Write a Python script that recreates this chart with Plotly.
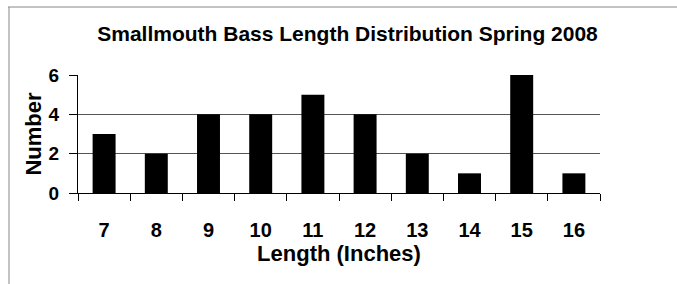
import plotly.graph_objects as go

lengths = ["7", "8", "9", "10", "11", "12", "13", "14", "15", "16"]
counts = [3, 2, 4, 4, 5, 4, 2, 1, 6, 1]
y_ticks = [0, 2, 4, 6]

W, H = 677, 284
ml, mr, mt, mb = 78, 77, 75, 91
pw, ph = W - ml - mr, H - mt - mb

def px_x(x):
    return (x - ml) / pw

def px_y(y):
    return (H - mb - y) / ph

font_family = "Arial, Liberation Sans, sans-serif"

fig = go.Figure(go.Bar(x=lengths, y=counts, marker=dict(color="black", line=dict(width=0))))

fig.update_layout(
    width=W, height=H,
    margin=dict(l=ml, r=mr, t=mt, b=mb),
    paper_bgcolor="white", plot_bgcolor="white",
    bargap=0.56,
    showlegend=False,
    font=dict(family=font_family, color="black"),
    title=dict(text="Smallmouth Bass Length Distribution Spring 2008",
               x=(94 + 601) / 2 / W, xanchor="center", y=1 - 34 / H, yanchor="middle",
               font=dict(size=21, weight="bold", family=font_family)),
    xaxis=dict(type="category", range=[-0.5, 9.5], showline=True, linecolor="black", linewidth=1,
               ticks="outside", ticklen=7, tickcolor="black", tickson="boundaries",
               tickfont=dict(size=20, weight="bold"), ticklabelstandoff=19,
               title=dict(text="Length (Inches)", font=dict(size=22, weight="bold"), standoff=0),
               showgrid=False),
    yaxis=dict(range=[0, 6], tickvals=y_ticks, showline=True, linecolor="black", linewidth=1,
               ticks="outside", ticklen=8, tickcolor="black",
               tickfont=dict(size=19, weight="bold"), ticklabelstandoff=6,
               title=dict(text="Number", font=dict(size=22, weight="bold"), standoff=0),
               showgrid=True, gridcolor="#555555", gridwidth=1, zeroline=False),
    shapes=[
        dict(type="line", xref="paper", yref="paper", x0=px_x(8), x1=px_x(677), y0=px_y(7), y1=px_y(7),
             line=dict(color="#888888", width=1)),
        dict(type="line", xref="paper", yref="paper", x0=px_x(9), x1=px_x(9), y0=px_y(7), y1=px_y(284),
             line=dict(color="#888888", width=1)),
    ],
)

fig.write_html("out.html", config={"displayModeBar": False},
               post_script="document.body.style.margin='0px';")
